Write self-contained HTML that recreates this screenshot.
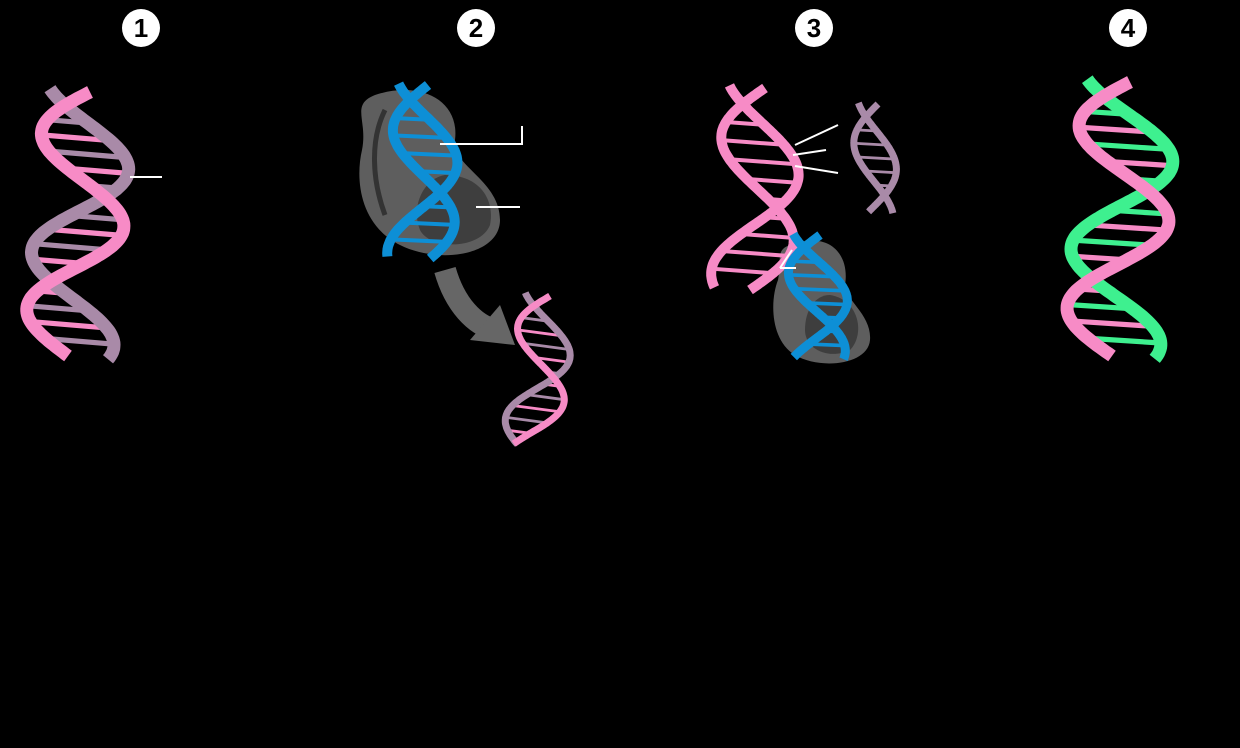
<!DOCTYPE html>
<html><head><meta charset="utf-8"><style>
html,body{margin:0;padding:0;background:#000;}
svg{display:block}
text{font-family:"Liberation Sans",sans-serif;font-weight:bold}
</style></head><body>
<svg id="s" width="1240" height="748" viewBox="0 0 1240 748">
<rect width="1240" height="748" fill="#000"/>
<g><circle cx="141" cy="28" r="19" fill="#fff"/><text x="141" y="37" text-anchor="middle" font-size="26">1</text></g>
<g><circle cx="476" cy="28" r="19" fill="#fff"/><text x="476" y="37" text-anchor="middle" font-size="26">2</text></g>
<g><circle cx="814" cy="28" r="19" fill="#fff"/><text x="814" y="37" text-anchor="middle" font-size="26">3</text></g>
<g><circle cx="1128" cy="28" r="19" fill="#fff"/><text x="1128" y="37" text-anchor="middle" font-size="26">4</text></g>

<g>
<path d="M375,95 C420,80 460,100 455,140 C450,165 500,180 500,220 C500,255 440,265 400,245 C360,225 355,180 362,150 C368,120 350,105 375,95Z" fill="#5e5e5e"/>
<path d="M445,175 C480,175 495,200 490,225 C480,250 430,250 420,230 C410,205 425,178 445,175Z" fill="#3e3e3e"/>
<path d="M385,110 C370,140 372,180 385,215" stroke="#333" stroke-width="5" fill="none"/>
</g>
<path d="M445,270 C455,305 475,325 495,330" stroke="#666" stroke-width="22" fill="none"/>
<polygon points="470,340 515,345 500,305" fill="#666"/>

<g>
<path d="M790,245 C830,230 850,255 845,285 C845,300 872,315 870,340 C868,365 820,370 795,355 C770,340 770,300 778,280 C782,260 775,250 790,245Z" fill="#5e5e5e"/>
<path d="M830,295 C860,300 865,335 850,350 C830,360 805,350 805,330 C805,310 815,295 830,295Z" fill="#3e3e3e"/>
</g>
<g id="helices"></g>
<g stroke="#fff" stroke-width="2" fill="none">
<line x1="130" y1="177" x2="162" y2="177"/>
<polyline points="440,144 522,144 522,126"/>
<line x1="476" y1="207" x2="520" y2="207"/>
<line x1="795" y1="145" x2="838" y2="125"/>
<line x1="793" y1="155" x2="826" y2="150"/>
<line x1="795" y1="166" x2="838" y2="173"/>
<line x1="780" y1="268" x2="792" y2="250"/>
<line x1="780" y1="268" x2="796" y2="268"/>
</g>
</svg>
<script>
const g=document.getElementById('helices');
const NS='http://www.w3.org/2000/svg';
function helix(name,x1,y1,x2,y2,amp,turns,c1,c2,w,off){
  const grp=document.createElementNS(NS,'g');
  
  
  const N=140,dx=x2-x1,dy=y2-y1,L=Math.hypot(dx,dy),nx=-dy/L,ny=dx/L;
  function pt(t,ph){const s=amp*Math.sin(2*Math.PI*turns*t+ph);return [x1+dx*t+nx*s,y1+dy*t+ny*s];}
  const R=Math.round(turns*11);
  for(let i=1;i<R;i++){const t=i/R;const a=pt(t,0),b=pt(t,off);
    const r=document.createElementNS(NS,'line');
    r.setAttribute('x1',a[0]);r.setAttribute('y1',a[1]);r.setAttribute('x2',b[0]);r.setAttribute('y2',b[1]);
    r.setAttribute('stroke',i%2?c1:c2);r.setAttribute('stroke-width',w*0.4);
    grp.appendChild(r);}
  [[off,c2],[0,c1]].forEach(([ph,c])=>{
    let d='';for(let i=0;i<=N;i++){const p=pt(i/N,ph);d+=(i?'L':'M')+p[0].toFixed(1)+','+p[1].toFixed(1);}
    const p=document.createElementNS(NS,'path');p.setAttribute('d',d);p.setAttribute('stroke',c);
    p.setAttribute('stroke-width',w);p.setAttribute('fill','none');
    grp.appendChild(p);});
  g.appendChild(grp);
}
const P='#f78bc6',V='#a98aa8',B='#0d8fd6',G='#3ef08f',O=Math.PI*0.65;
helix('helix-1',90,92,68,356,45,1.5,P,V,13,O);
helix('helix-2-blue',428,85,420,258,33,0.95,B,B,10,O);
helix('helix-2-product',550,296,530,446,28,1.1,P,V,7,O);
helix('helix-3-pink',765,88,750,290,40,1.0,P,P,10,O);
helix('helix-3-fragment',878,104,872,212,22,0.7,V,V,7,O);
helix('helix-3-blue',820,235,815,358,30,0.8,B,B,9,O);
helix('helix-4',1130,82,1112,356,48,1.5,P,G,13,O);
</script>
</body></html>
